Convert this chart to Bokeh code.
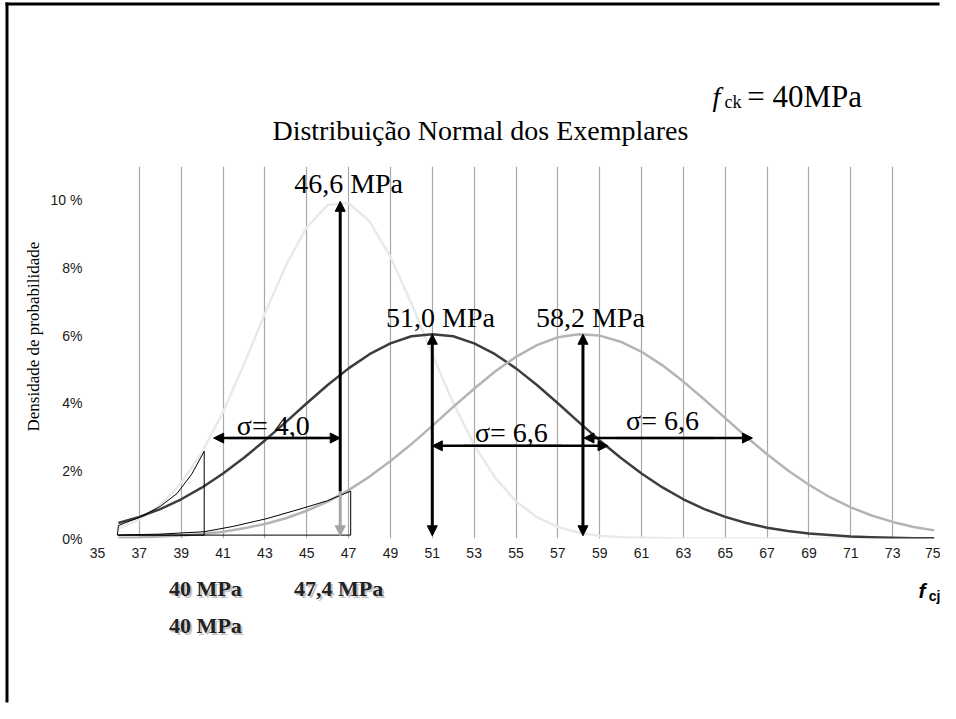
import math
from bokeh.plotting import figure
from bokeh.models import Range1d, FixedTicker, Arrow, NormalHead
from bokeh.core.properties import value
from bokeh.embed import file_html
from bokeh.resources import INLINE

# ---------------- data ----------------
x_vals = list(range(36, 76))
light_pct = [0.30, 0.56, 0.99, 1.64, 2.56, 3.74, 5.15, 6.65, 8.07, 9.21,
             9.86, 9.92, 9.38, 8.33, 6.95, 5.45, 4.01, 2.77, 1.80, 1.10,
             0.63, 0.34, 0.17, 0.08, 0.04, 0.02, 0.01, 0.00, 0.00, 0.00,
             0.00, 0.00, 0.00, 0.00, 0.00, 0.00, 0.00, 0.00, 0.00, 0.00]
dark_pct = [0.46, 0.64, 0.87, 1.16, 1.51, 1.92, 2.39, 2.90, 3.44, 4.00,
            4.54, 5.03, 5.45, 5.77, 5.98, 6.04, 5.98, 5.77, 5.45, 5.03,
            4.54, 4.00, 3.44, 2.90, 2.39, 1.92, 1.51, 1.16, 0.87, 0.64,
            0.46, 0.32, 0.22, 0.15, 0.10, 0.06, 0.04, 0.02, 0.01, 0.01]
medium_pct = [0.02, 0.03, 0.06, 0.09, 0.13, 0.20, 0.30, 0.43, 0.60, 0.82,
              1.09, 1.43, 1.83, 2.29, 2.79, 3.33, 3.89, 4.43, 4.94, 5.37,
              5.72, 5.95, 6.04, 6.00, 5.82, 5.52, 5.12, 4.64, 4.11, 3.56,
              3.01, 2.49, 2.01, 1.59, 1.22, 0.92, 0.68, 0.49, 0.34, 0.24]

means = [46.6, 51.0, 58.2]
peaks = [9.97, 6.04, 6.04]
mean_labels = ["46,6 MPa", "51,0 MPa", "58,2 MPa"]
sigma_labels = ["σ= 4,0", "σ= 6,6", "σ= 6,6"]
bottom_labels = ["40 MPa", "47,4 MPa", "40 MPa"]

fill1_x = [35.95, 36.0, 36.3, 37.0, 38.0, 38.8, 39.5, 40.1, 40.1, 35.95]
fill1_y = [0.10, 0.38, 0.46, 0.62, 0.95, 1.33, 1.90, 2.58, 0.10, 0.10]
fill2_x = [36.0, 38.0, 40.1, 41.5, 43.1, 45.0, 46.0, 47.1, 47.1, 36.0]
fill2_y = [0.10, 0.13, 0.20, 0.36, 0.59, 0.93, 1.12, 1.40, 0.10, 0.10]

x_ticks = list(range(35, 76, 2))
grid_ticks = list(range(37, 76, 2))
y_ticks = [0, 2, 4, 6, 8, 10]
y_tick_labels = ["0%", "2%", "4%", "6%", "8%", "10 %"]

# ---------------- figure ----------------
p = figure(width=940, height=703, x_range=Range1d(35, 75), y_range=Range1d(0, 11),
           output_backend="svg", toolbar_location=None,
           min_border_left=97, min_border_right=6,
           min_border_top=166, min_border_bottom=165)
p.outline_line_color = None
p.background_fill_color = "white"
p.border_fill_color = "white"

for ax in (p.xaxis, p.yaxis):
    ax.axis_line_color = None
    ax.major_tick_line_color = None
    ax.minor_tick_line_color = None
    ax.major_tick_out = 0
    ax.major_tick_in = 0
    ax.major_label_text_font = "Liberation Sans"
    ax.major_label_text_font_size = "14px"
    ax.major_label_text_color = "#1a1a1a"

p.xaxis.ticker = FixedTicker(ticks=x_ticks)
p.xaxis.major_label_standoff = 9
p.yaxis.ticker = FixedTicker(ticks=y_ticks)
p.yaxis.major_label_overrides = {t: l for t, l in zip(y_ticks, y_tick_labels)}
p.yaxis.major_label_standoff = 15

p.xgrid.ticker = FixedTicker(ticks=grid_ticks)
p.xgrid.grid_line_color = "#a8a8a8"
p.xgrid.grid_line_width = 1.2
p.ygrid.grid_line_color = None

# curves
p.line(x_vals, light_pct, line_color="#e9e9e9", line_width=2.5, line_join="round")
p.line(x_vals, dark_pct, line_color="#3d3d3d", line_width=2.5, line_join="round")
p.line(x_vals, medium_pct, line_color="#b4b4b4", line_width=2.5, line_join="round")

# outlined areas
p.line(fill1_x, fill1_y, line_color="black", line_width=1)
p.line(fill2_x, fill2_y, line_color="black", line_width=1)


def head(color="black", size=10):
    return NormalHead(size=size, fill_color=color, line_color=color, line_width=1)


# vertical arrows at the means
p.add_layout(Arrow(x_start=means[0], y_start=1.4, x_end=means[0], y_end=0.08,
                   line_color="#a6a6a6", line_width=3, end=head("#a6a6a6"), start=None))
p.add_layout(Arrow(x_start=means[0], y_start=1.4, x_end=means[0], y_end=peaks[0],
                   line_color="black", line_width=3, end=head(), start=None))
for i in (1, 2):
    p.add_layout(Arrow(x_start=means[i], y_start=0.08, x_end=means[i], y_end=peaks[i],
                       line_color="black", line_width=3, end=head(), start=head()))

# horizontal sigma arrows: (x0, x1, y, gray0, gray1)
h_arrows = [(40.55, 46.6, 2.97, 41.3, 45.7),
            (51.0, 59.4, 2.74, 52.5, 57.2),
            (58.25, 66.3, 2.97, 59.8, 64.45)]
for x0, x1, yy, g0, g1 in h_arrows:
    p.add_layout(Arrow(x_start=x0, y_start=yy, x_end=x1, y_end=yy,
                       line_color="black", line_width=2.5, start=head(), end=head()))
    p.line([g0, g1], [yy, yy], line_color="#8a8a8a", line_width=2.5)


def txt(x, y, text, size, font="Liberation Serif", style="normal", align="center",
        baseline="middle", color="black", angle=0.0, xo=0, yo=0):
    p.text(x=[x], y=[y], text=[text], text_font=value(font), text_font_size=value(size),
           text_font_style=style, text_align=align, text_baseline=baseline,
           text_color=color, angle=angle, x_offset=xo, y_offset=yo, level="overlay")


# page frame (top and left edges) as thin filled bars, kept inside the canvas
p.quad(left=[30.603, 30.603], right=[30.746, 75.24], top=[15.848, 15.848],
       bottom=[-4.85, 15.76], fill_color="black", line_color=None, level="overlay")

# title
txt(53.30, 12.06, "Distribuição Normal dos Exemplares", "28px")

# f_ck = 40MPa
txt(64.58, 13.07, "f", "28px", style="italic")
txt(65.37, 12.92, "ck", "18px")
txt(66.05, 13.07, "= 40MPa", "31px", align="left")

# y axis title
txt(31.94, 5.97, "Densidade de probabilidade", "17px", angle=math.pi / 2)

# mean labels
mean_pos = [(47.0, 10.50), (51.39, 6.53), (58.56, 6.53)]
for (mx, my), t in zip(mean_pos, mean_labels):
    txt(mx, my, t, "28px")

# sigma labels
sig_pos = [(43.4, 3.33), (54.78, 3.13), (62.0, 3.48)]
for (sx, sy), t in zip(sig_pos, sigma_labels):
    txt(sx, sy, t, "28px")

# bottom labels with shadow
bot_pos = [(40.16, -1.48), (46.52, -1.48), (40.16, -2.57)]
for (bx, by), t in zip(bot_pos, bottom_labels):
    txt(bx, by, t, "22px", style="bold", color="#c4c4c4", xo=2, yo=2)
    txt(bx, by, t, "22px", style="bold", color="#222222")

# f_cj
txt(74.40, -1.54, "f", "21px", font="Liberation Sans", style="bold italic")
txt(74.72, -1.69, "cj", "14px", font="Liberation Sans", style="bold", align="left")

open("out.html", "w").write(file_html(p, INLINE))
